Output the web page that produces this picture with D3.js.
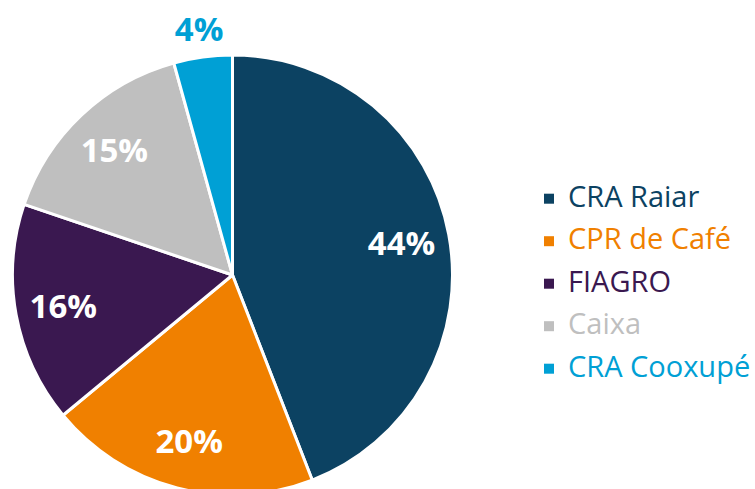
<!DOCTYPE html>
<html><head><meta charset="utf-8">
<script src="https://cdn.jsdelivr.net/npm/d3@7"></script>
<style>body{margin:0;background:#fff}svg{display:block}</style>
</head><body>
<svg id="c" width="755" height="489"></svg>
<script>
const categories = ["CRA Raiar", "CPR de Café", "FIAGRO", "Caixa", "CRA Cooxupé"];
const values = [44.1, 19.9, 16.2, 15.5, 4.3];
const labelText = ["44%", "20%", "16%", "15%", "4%"];
const colors = ["#0c4262", "#f08000", "#3a1850", "#bfbfbf", "#00a0d5"];

const svg = d3.select("#c");
const cx = 232.5, cy = 275, R = 220;
const g = svg.append("g").attr("transform", `translate(${cx},${cy})`);
const pie = d3.pie().sort(null).value(d => d)(values);
const arc = d3.arc().innerRadius(0).outerRadius(R);
g.selectAll("path").data(pie).join("path")
  .attr("d", arc).attr("fill", (d,i) => colors[i])
  .attr("stroke", "#fff").attr("stroke-width", 3).attr("stroke-linejoin","round");

const inner = d3.arc().innerRadius(172).outerRadius(172);
const outer = d3.arc().innerRadius(248).outerRadius(248);
g.selectAll("text").data(pie).join("text")
  .attr("transform", (d,i) => `translate(${(i===4?outer:inner).centroid(d)})`)
  .attr("text-anchor","middle").attr("dy","0.36em")
  .attr("font-family","'Open Sans', sans-serif").attr("font-weight","bold").attr("font-size",33)
  .attr("fill", (d,i) => i===4 ? colors[i] : "#fff")
  .text((d,i) => labelText[i]);

const lg = svg.append("g").attr("transform","translate(544,198.7)");
const rows = lg.selectAll("g").data(categories).join("g")
  .attr("transform",(d,i)=>`translate(0,${i*42.5})`);
rows.append("rect").attr("x",0).attr("y",-5).attr("width",10).attr("height",10)
  .attr("fill",(d,i)=>colors[i]);
rows.append("text").attr("x",24).attr("y",8)
  .attr("font-family","'Open Sans', sans-serif").attr("font-size",29)
  .attr("fill",(d,i)=>colors[i]).text(d=>d);
</script>
</body></html>
